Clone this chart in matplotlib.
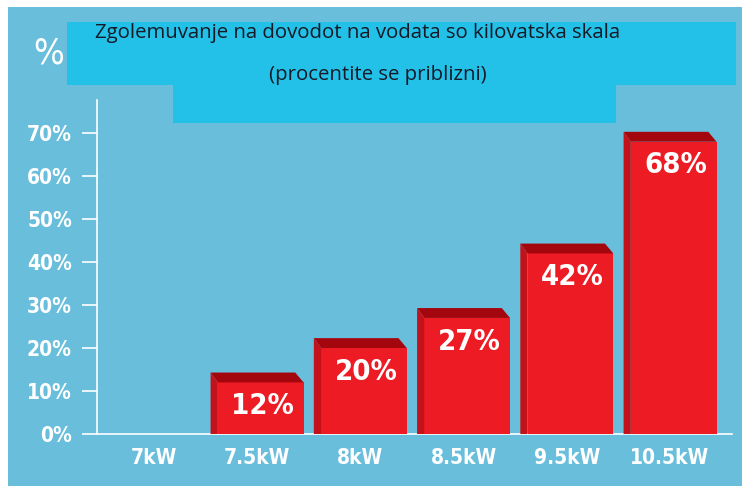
import matplotlib
matplotlib.use("Agg")
import matplotlib.pyplot as plt
from matplotlib.patches import Polygon, Rectangle

categories = ["7kW", "7.5kW", "8kW", "8.5kW", "9.5kW", "10.5kW"]
values = [0, 12, 20, 27, 42, 68]
yticks = [0, 10, 20, 30, 40, 50, 60, 70]
title = "Zgolemuvanje na dovodot na vodata so kilovatska skala"
subtitle = "(procentite se priblizni)"

W, H = 742, 486
BG = "#69bedc"
BOX = "#23c0e8"
FRONT = "#ec1b24"
SIDE = "#c4121b"
TOP = "#a3060d"

fig = plt.figure(figsize=(W / 100, H / 100), dpi=100)
fig.patch.set_facecolor("white")


def fx(px):
    return px / W


def fy(py):
    return 1 - py / H


# blue panel
fig.patches.append(Rectangle((fx(8), 0), 1, fy(7), transform=fig.transFigure,
                             facecolor=BG, edgecolor="none", zorder=-5))
# title box (stepped shape)
fig.patches.append(Rectangle((fx(67), fy(85)), fx(736 - 67), (85 - 22) / H,
                             transform=fig.transFigure, facecolor=BOX,
                             edgecolor="none", zorder=1))
fig.patches.append(Rectangle((fx(173), fy(123)), fx(616 - 173), (123 - 84) / H,
                             transform=fig.transFigure, facecolor=BOX,
                             edgecolor="none", zorder=1))

ax = fig.add_axes([fx(97), (H - 434) / H, fx(732 - 97), (434 - 100) / H])
ax.set_facecolor("none")
ax.set_xlim(-0.55, 5.6)
ax.set_ylim(0, 77.7)

w = 0.9
sx_l = 0.07
sx_r = 0.08
dy = 2.3
xs = list(range(len(categories)))
for x, v in zip(xs, values):
    if v <= 0:
        continue
    x0, x1 = x - w / 2, x + w / 2
    ax.bar(x0 + sx_l, v, width=x1 - x0 - sx_l, align="edge",
           color=FRONT, edgecolor="none", zorder=3)
    ax.add_patch(Polygon([(x0, v + dy), (x1 - sx_r, v + dy), (x1, v), (x0 + sx_l, v)],
                         closed=True, facecolor=TOP, edgecolor="none", zorder=3))
    ax.add_patch(Polygon([(x0, v + dy), (x0 + sx_l, v), (x0 + sx_l, 0), (x0, 0)],
                         closed=True, facecolor=SIDE, edgecolor="none", zorder=3))
    ax.annotate(f"{v}%", (x + sx_l / 2 + 0.02, v), xytext=(0, -17),
                textcoords="offset points", ha="center", va="center",
                color="white", fontsize=21, fontweight="bold",
                fontstretch="condensed", family="DejaVu Sans", zorder=4)

for s in ["top", "right"]:
    ax.spines[s].set_visible(False)
for s in ["left", "bottom"]:
    ax.spines[s].set_color("white")
    ax.spines[s].set_linewidth(1.2)

ax.set_yticks(yticks)
ax.set_yticklabels([f"{t}%" for t in yticks])
ax.set_xticks(xs)
ax.set_xticklabels(categories)
ax.tick_params(axis="y", length=11, width=1.2, color="white", pad=7)
ax.tick_params(axis="x", length=0, pad=10)
for lab in ax.get_yticklabels() + ax.get_xticklabels():
    lab.set_color("white")
    lab.set_fontsize(15)
    lab.set_fontweight("bold")
    lab.set_fontstretch("condensed")
    lab.set_family("DejaVu Sans")

fig.text(fx(49), fy(53), "%", color="white", fontsize=26, ha="center", va="center",
         fontstretch="condensed", family="DejaVu Sans", zorder=2)
fig.text(fx(358), fy(33), title, color="#161a26", fontsize=14.7, ha="center",
         va="center", family="Open Sans", zorder=2)
fig.text(fx(378), fy(75), subtitle, color="#161a26", fontsize=14.7, ha="center",
         va="center", family="Open Sans", zorder=2)

fig.savefig("out.png", dpi=100, facecolor=fig.get_facecolor())
